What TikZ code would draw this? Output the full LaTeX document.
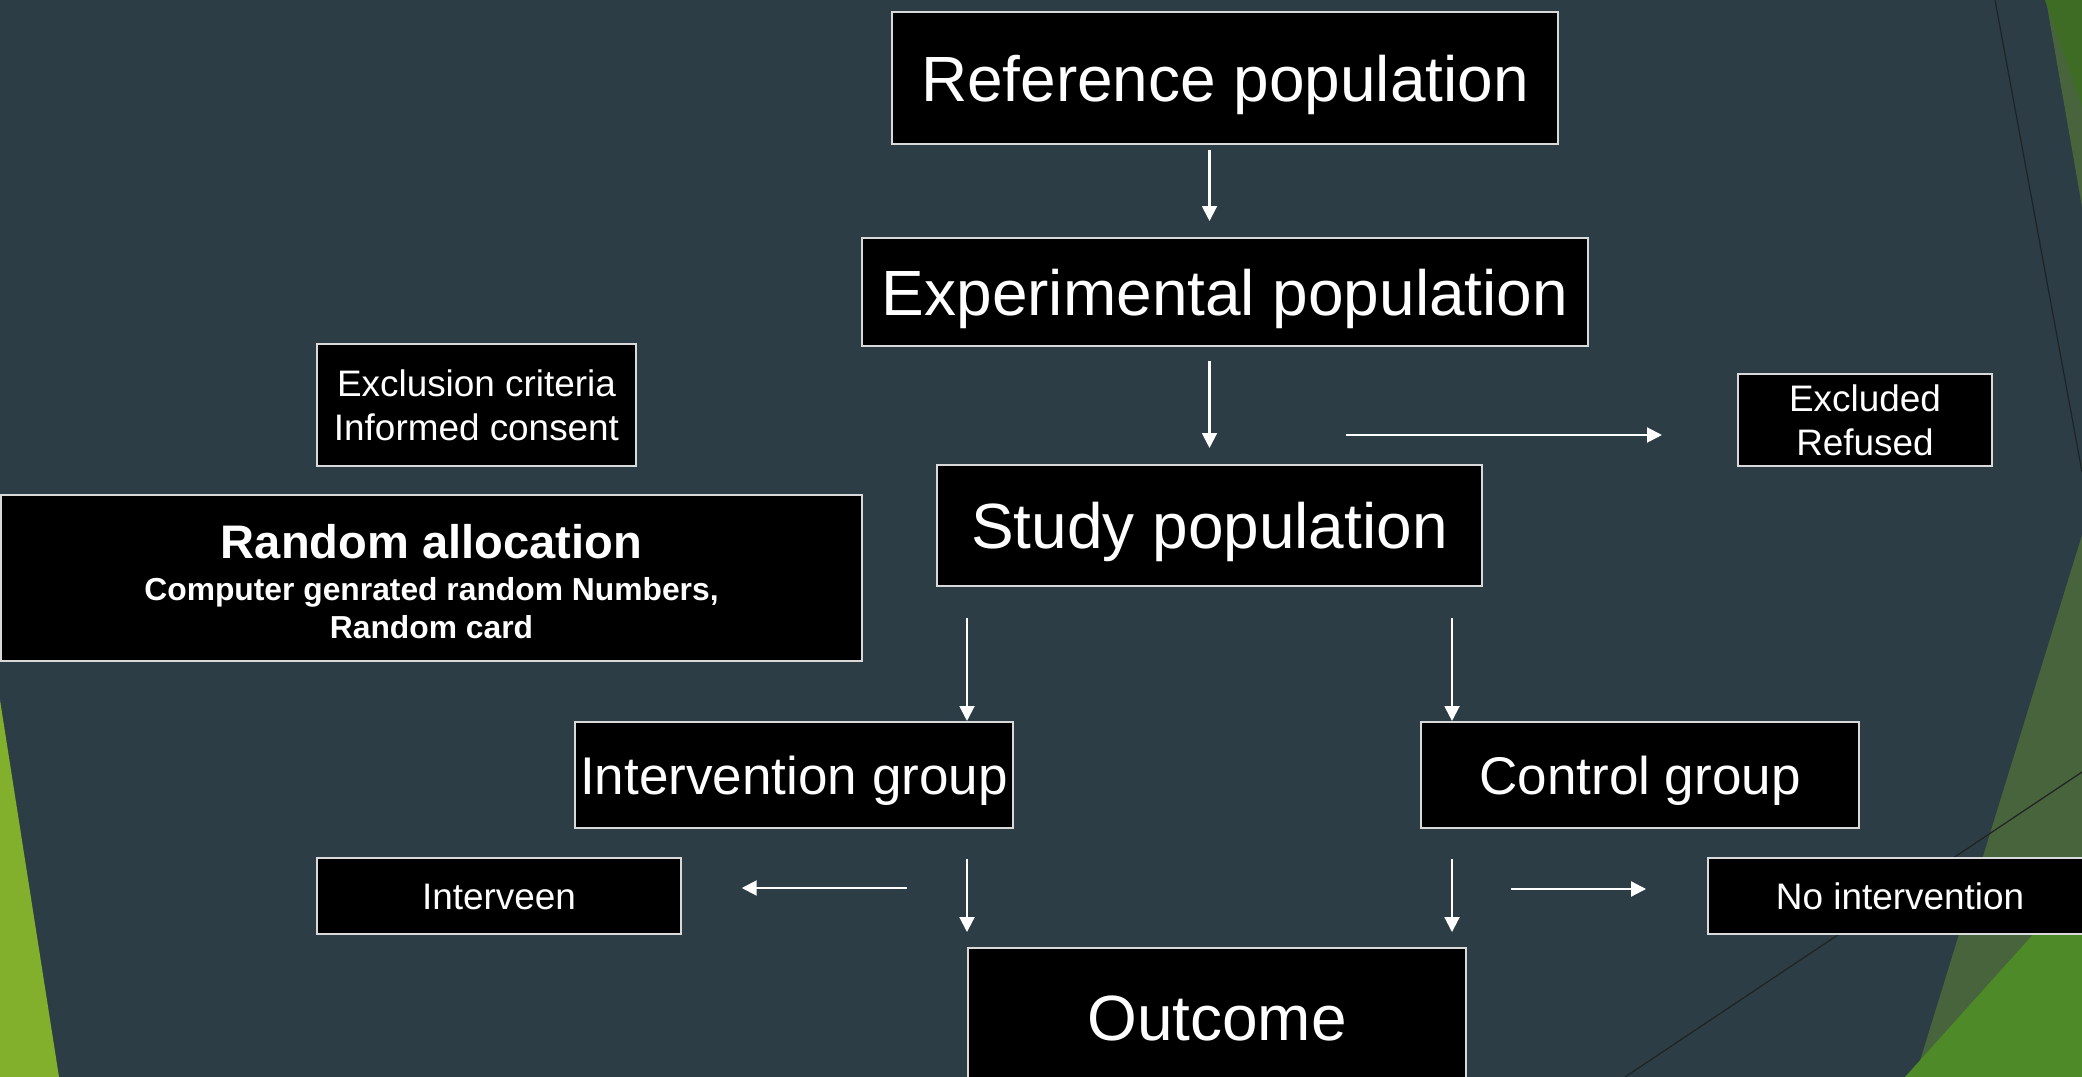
\documentclass[tikz,border=0pt]{standalone}
\usepackage{fontspec}
\setmainfont{Liberation Sans}
\usetikzlibrary{arrows.meta,calc}

\definecolor{slide}{RGB}{45,61,69}
\definecolor{leafgreen}{RGB}{131,176,44}
\definecolor{darkleaf}{RGB}{62,108,36}
\definecolor{olive}{RGB}{72,100,60}
\definecolor{brightleaf}{RGB}{78,139,40}
\definecolor{edge}{RGB}{217,217,217}
\definecolor{thinline}{RGB}{30,36,36}

\begin{document}
\begin{tikzpicture}[x=0.02cm,y=-0.02cm,
    box/.style={draw=edge,line width=1.2pt,fill=black,text=white,inner sep=0pt,align=center},
    bigtext/.style={font=\fontsize{36.4}{43.7}\selectfont,text height=26.2pt,text depth=0pt},
    midtext/.style={font=\fontsize{30.2}{36.2}\selectfont,text height=21.7pt,text depth=0pt},
    smalltext/.style={font=\fontsize{21}{25.2}\selectfont},
    arr/.style={draw=white,line width=1.2pt,-{Triangle[length=8.5pt,width=8.5pt]}}]
  \useasboundingbox (0,0) rectangle (2082,1077);
  \clip (0,0) rectangle (2082,1077);
  \fill[slide] (0,0) rectangle (2082,1077);
  \fill[leafgreen] (0,700) -- (59,1077) -- (0,1077) -- cycle;
  \fill[olive] (2046,0) -- (2082,207) -- (2082,0) -- cycle;
  \fill[darkleaf] (2045,0) -- (2082,107) -- (2082,0) -- cycle;
  \fill[olive] (2082,535) -- (1915,1077) -- (2082,1077) -- cycle;
  \fill[brightleaf] (1905,1077) -- (2082,880) -- (2082,1077) -- cycle;
  \draw[thinline,line width=0.7pt] (1995,0) -- (2082,472);
  \draw[thinline,line width=0.7pt] (1625,1077) -- (2082,772);

  \node[box,bigtext,minimum width=13.32cm,minimum height=2.64cm] (ref) at (1225,78) {Reference population};
  \node[box,bigtext,minimum width=14.52cm,minimum height=2.16cm] (exp) at (1225,292) {Experimental population};
  \node[box,bigtext,minimum width=10.9cm,minimum height=2.42cm] (study) at (1209.5,525.5) {Study population};
  \node[box,smalltext,minimum width=6.38cm,minimum height=2.44cm] (crit) at (476.5,405) {Exclusion criteria\\Informed consent};
  \node[box,font=\fontsize{18.1}{21.7}\selectfont\bfseries,minimum width=17.22cm,minimum height=3.32cm] (rand) at (431.5,578)
    {{\fontsize{26.8}{32}\selectfont\rule{0pt}{24pt}Random allocation}\\[2.2pt]Computer genrated random Numbers,\\Random card};
  \node[box,smalltext,minimum width=5.08cm,minimum height=1.84cm] (excl) at (1865,420) {Excluded\\Refused};
  \node[box,midtext,minimum width=8.76cm,minimum height=2.12cm] (intgrp) at (794,775) {Intervention group};
  \node[box,midtext,minimum width=8.76cm,minimum height=2.12cm] (ctrl) at (1640,775) {Control group};
  \node[box,smalltext,text height=15.1pt,text depth=0pt,minimum width=7.28cm,minimum height=1.52cm] (interveen) at (499,896) {Interveen};
  \node[box,smalltext,text height=15.1pt,text depth=0pt,minimum width=7.68cm,minimum height=1.52cm] (noint) at (1900,896) {No intervention};
  \node[box,bigtext,minimum width=9.96cm,minimum height=2.76cm] (out) at (1217,1017) {Outcome};

  \draw[arr,shorten <=2.8pt,shorten >=9.1pt] (ref.south -| study) -- (exp.north -| study);
  \draw[arr,shorten <=8pt,shorten >=9.1pt] (exp.south -| study) -- (study.north);
  \coordinate (sl) at ($(study.south west)+(31,0)$);
  \coordinate (sr) at ($(study.south east)+(-31,0)$);
  \draw[arr,shorten <=17.6pt] (sl) -- (sl |- intgrp.north);
  \draw[arr,shorten <=17.6pt] (sr) -- (sr |- ctrl.north);
  \draw[arr,shorten <=17pt,shorten >=8.5pt] (sl |- intgrp.south) -- (sl |- out.north);
  \draw[arr,shorten <=17pt,shorten >=8.5pt] (sr |- ctrl.south) -- (sr |- out.north);
  \coordinate (exarr) at (1346,435);
  \draw[arr,shorten >=42.7pt] (exarr) -- (exarr -| excl.west);
  \coordinate (ivarr) at (907,888);
  \draw[arr,shorten >=34pt] (ivarr) -- (ivarr -| interveen.east);
  \coordinate (niarr) at (1511,889);
  \draw[arr,shorten >=34.7pt] (niarr) -- (niarr -| noint.west);
\end{tikzpicture}
\end{document}
